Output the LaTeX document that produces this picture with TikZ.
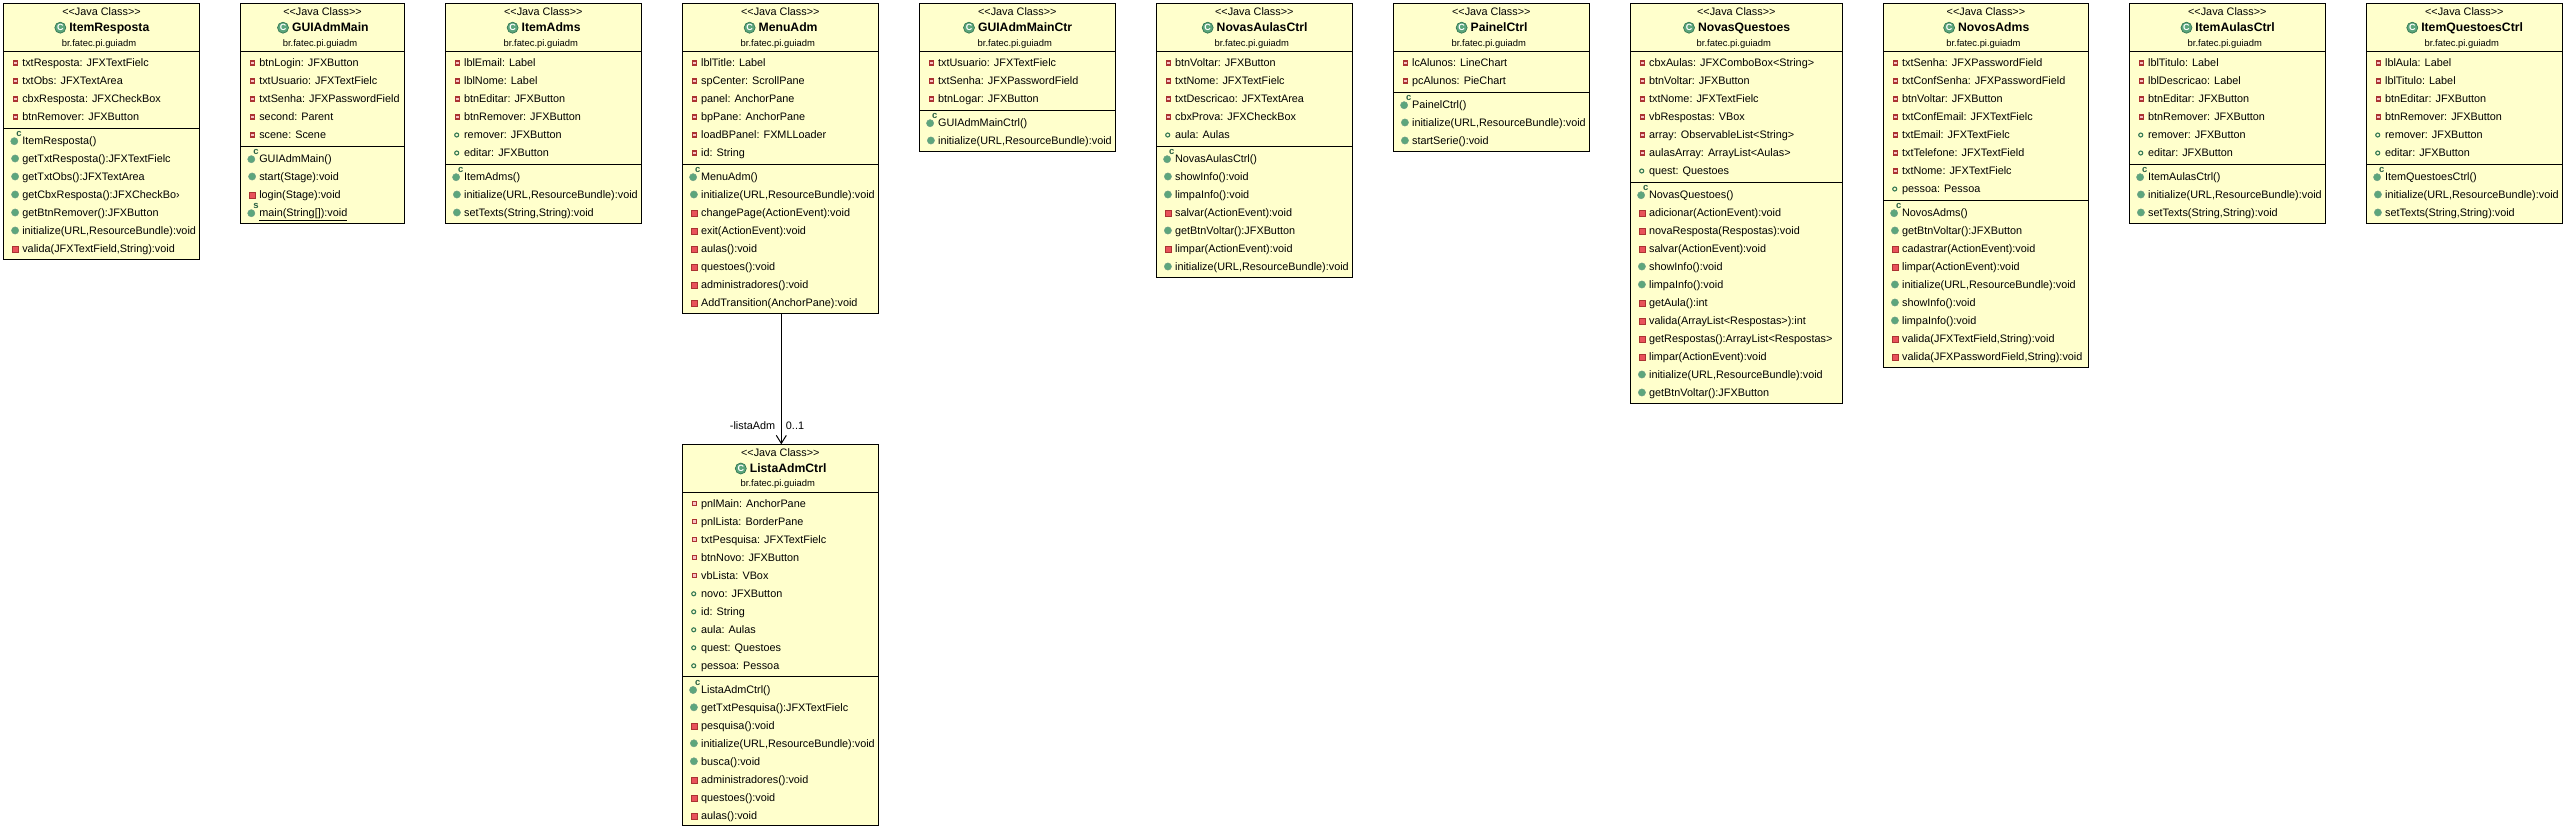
\documentclass[tikz,border=0pt]{standalone}
\usepackage{fontspec}
\setmainfont{Liberation Sans}
\usetikzlibrary{arrows.meta}
\definecolor{clsfill}{RGB}{255,255,204}
\definecolor{icongreen}{RGB}{92,166,124}
\definecolor{icongreenD}{RGB}{52,120,84}
\definecolor{iconred}{RGB}{232,82,90}
\definecolor{iconredD}{RGB}{170,50,50}
\begin{document}
\begin{tikzpicture}[x=1pt,y=-1pt,
cls/.style={shape=rectangle,draw=black,line width=1pt,fill=clsfill,anchor=north west,inner sep=0,outer sep=0},
txt/.style={inner sep=0,outer sep=0,text height=7.5pt,text depth=0pt,font=\fontsize{10.85}{12}\selectfont},
stereo/.style={txt},
pkg/.style={txt,xshift=-2.5pt,font=\fontsize{9.4}{11}\selectfont},
iconT/.style={shape=circle,fill=icongreen,draw=icongreenD,line width=0.7pt,minimum size=11pt,inner sep=0,text=white,font=\fontsize{9}{9}\bfseries\selectfont,anchor=center,xshift=-9pt},
title/.style={inner sep=0,outer sep=0,text height=8.5pt,text depth=0pt,font=\fontsize{12.2}{14}\bfseries\selectfont,xshift=7.8pt,label={[iconT]left:C}},
row/.style={txt,anchor=west},
iconAR/.style={shape=rectangle,draw=iconredD,fill=iconred!35,line width=1.1pt,minimum size=4pt,inner sep=0,anchor=center,xshift=-7pt},
iconAG/.style={shape=circle,draw=icongreenD,fill=clsfill,line width=1.1pt,minimum size=4pt,inner sep=0,anchor=center,xshift=-7.4pt},
iconMG/.style={shape=circle,draw=icongreenD!70,fill=icongreen,line width=0.5pt,minimum size=7.2pt,inner sep=0,anchor=center,xshift=-7.2pt},
iconMC/.style={iconMG,xshift=-0.8pt,yshift=-0.7pt},
iconMR/.style={shape=rectangle,draw=iconredD,fill=iconred,line width=0.5pt,minimum size=5.8pt,inner sep=0,anchor=center,xshift=-7pt,yshift=-1pt},
iconSup/.style={inner sep=0,text=icongreenD!80!black,font=\fontsize{9.5}{9.5}\bfseries\selectfont,anchor=center,xshift=-3.3pt,yshift=6.7pt},
attrR/.style={row,label={[iconAR]left:{}}},
attrG/.style={row,label={[iconAG]left:{}}},
metG/.style={row,label={[iconMG]left:{}}},
metR/.style={row,label={[iconMR]left:{}}},
metC/.style={row,label={[iconMC]left:{}},label={[iconSup]left:c}},
metS/.style={row,label={[iconMC]left:{}},label={[iconSup]left:s}},
sepl/.style={line width=1pt},
assoc/.style={line width=1pt,-{Straight Barb[length=8pt,width=10pt]}}]
\useasboundingbox (0,0) rectangle (2566,830);
\def\tx{18.8}
\def\dy{18}
\def\ya{63}
\def\yb{503.8}
\def\gp{5.5}
\def\jc{<{}<Java Class>{}>}
\def\pk{br.fatec.pi.guiadm}
\def\xa{3.5}
\def\xb{240.5}
\def\xc{445.3}
\def\xd{682.3}
\def\xe{919.3}
\def\xf{1156.3}
\def\xg{1393.3}
\def\xh{1630.3}
\def\xi{1883.3}
\def\xj{2129.3}
\def\xk{2366.3}

\node[cls,minimum width=196,minimum height=255.5] (ItemResposta) at (\xa,3.5) {};
\draw[sepl] (\xa,51.5) -- +(196,0);
\draw[sepl] (\xa,128) -- +(196,0);
\node[stereo] (ir0) at (\xa+98,12) {\jc};
\node[title] (irT) at (\xa+98,27.7) {ItemResposta};
\node[pkg] (irP) at (\xa+98,42.3) {\pk};
\node[attrR] (ir1) at (\xa+\tx,\ya) {txtResposta: JFXTextFielc};
\node[attrR] (ir2) at (\xa+\tx,\ya+\dy) {txtObs: JFXTextArea};
\node[attrR] (ir3) at (\xa+\tx,\ya+2*\dy) {cbxResposta: JFXCheckBox};
\node[attrR] (ir4) at (\xa+\tx,\ya+3*\dy) {btnRemover: JFXButton};
\node[metC] (ir5) at (\xa+\tx,\ya+\gp+4*\dy) {ItemResposta()};
\node[metG] (ir6) at (\xa+\tx,\ya+\gp+5*\dy) {getTxtResposta():JFXTextFielc};
\node[metG] (ir7) at (\xa+\tx,\ya+\gp+6*\dy) {getTxtObs():JFXTextArea};
\node[metG] (ir8) at (\xa+\tx,\ya+\gp+7*\dy) {getCbxResposta():JFXCheckBo›};
\node[metG] (ir9) at (\xa+\tx,\ya+\gp+8*\dy) {getBtnRemover():JFXButton};
\node[metG] (ir10) at (\xa+\tx,\ya+\gp+9*\dy) {initialize(URL,ResourceBundle):void};
\node[metR] (ir11) at (\xa+\tx,\ya+\gp+10*\dy) {valida(JFXTextField,String):void};

\node[cls,minimum width=164,minimum height=219.5] (GUIAdmMain) at (\xb,3.5) {};
\draw[sepl] (\xb,51.5) -- +(164,0);
\draw[sepl] (\xb,146) -- +(164,0);
\node[stereo] (gm0) at (\xb+82,12) {\jc};
\node[title] (gmT) at (\xb+82,27.7) {GUIAdmMain};
\node[pkg] (gmP) at (\xb+82,42.3) {\pk};
\node[attrR] (gm1) at (\xb+\tx,\ya) {btnLogin: JFXButton};
\node[attrR] (gm2) at (\xb+\tx,\ya+\dy) {txtUsuario: JFXTextFielc};
\node[attrR] (gm3) at (\xb+\tx,\ya+2*\dy) {txtSenha: JFXPasswordField};
\node[attrR] (gm4) at (\xb+\tx,\ya+3*\dy) {second: Parent};
\node[attrR] (gm5) at (\xb+\tx,\ya+4*\dy) {scene: Scene};
\node[metC] (gm6) at (\xb+\tx,\ya+\gp+5*\dy) {GUIAdmMain()};
\node[metG] (gm7) at (\xb+\tx,\ya+\gp+6*\dy) {start(Stage):void};
\node[metR] (gm8) at (\xb+\tx,\ya+\gp+7*\dy) {login(Stage):void};
\node[metS] (gm9) at (\xb+\tx,\ya+\gp+8*\dy) {\underline{main(String[]):void}};

\node[cls,minimum width=196,minimum height=219.5] (ItemAdms) at (\xc,3.5) {};
\draw[sepl] (\xc,51.5) -- +(196,0);
\draw[sepl] (\xc,164) -- +(196,0);
\node[stereo] (ia0) at (\xc+98,12) {\jc};
\node[title] (iaT) at (\xc+98,27.7) {ItemAdms};
\node[pkg] (iaP) at (\xc+98,42.3) {\pk};
\node[attrR] (ia1) at (\xc+\tx,\ya) {lblEmail: Label};
\node[attrR] (ia2) at (\xc+\tx,\ya+\dy) {lblNome: Label};
\node[attrR] (ia3) at (\xc+\tx,\ya+2*\dy) {btnEditar: JFXButton};
\node[attrR] (ia4) at (\xc+\tx,\ya+3*\dy) {btnRemover: JFXButton};
\node[attrG] (ia5) at (\xc+\tx,\ya+4*\dy) {remover: JFXButton};
\node[attrG] (ia6) at (\xc+\tx,\ya+5*\dy) {editar: JFXButton};
\node[metC] (ia7) at (\xc+\tx,\ya+\gp+6*\dy) {ItemAdms()};
\node[metG] (ia8) at (\xc+\tx,\ya+\gp+7*\dy) {initialize(URL,ResourceBundle):void};
\node[metG] (ia9) at (\xc+\tx,\ya+\gp+8*\dy) {setTexts(String,String):void};

\node[cls,minimum width=196,minimum height=309.5] (MenuAdm) at (\xd,3.5) {};
\draw[sepl] (\xd,51.5) -- +(196,0);
\draw[sepl] (\xd,164) -- +(196,0);
\node[stereo] (ma0) at (\xd+98,12) {\jc};
\node[title] (maT) at (\xd+98,27.7) {MenuAdm};
\node[pkg] (maP) at (\xd+98,42.3) {\pk};
\node[attrR] (ma1) at (\xd+\tx,\ya) {lblTitle: Label};
\node[attrR] (ma2) at (\xd+\tx,\ya+\dy) {spCenter: ScrollPane};
\node[attrR] (ma3) at (\xd+\tx,\ya+2*\dy) {panel: AnchorPane};
\node[attrR] (ma4) at (\xd+\tx,\ya+3*\dy) {bpPane: AnchorPane};
\node[attrR] (ma5) at (\xd+\tx,\ya+4*\dy) {loadBPanel: FXMLLoader};
\node[attrR] (ma6) at (\xd+\tx,\ya+5*\dy) {id: String};
\node[metC] (ma7) at (\xd+\tx,\ya+\gp+6*\dy) {MenuAdm()};
\node[metG] (ma8) at (\xd+\tx,\ya+\gp+7*\dy) {initialize(URL,ResourceBundle):void};
\node[metR] (ma9) at (\xd+\tx,\ya+\gp+8*\dy) {changePage(ActionEvent):void};
\node[metR] (ma10) at (\xd+\tx,\ya+\gp+9*\dy) {exit(ActionEvent):void};
\node[metR] (ma11) at (\xd+\tx,\ya+\gp+10*\dy) {aulas():void};
\node[metR] (ma12) at (\xd+\tx,\ya+\gp+11*\dy) {questoes():void};
\node[metR] (ma13) at (\xd+\tx,\ya+\gp+12*\dy) {administradores():void};
\node[metR] (ma14) at (\xd+\tx,\ya+\gp+13*\dy) {AddTransition(AnchorPane):void};

\node[cls,minimum width=196,minimum height=147.5] (GUIAdmMainCtr) at (\xe,3.5) {};
\draw[sepl] (\xe,51.5) -- +(196,0);
\draw[sepl] (\xe,110) -- +(196,0);
\node[stereo] (gc0) at (\xe+98,12) {\jc};
\node[title] (gcT) at (\xe+98,27.7) {GUIAdmMainCtr};
\node[pkg] (gcP) at (\xe+98,42.3) {\pk};
\node[attrR] (gc1) at (\xe+\tx,\ya) {txtUsuario: JFXTextFielc};
\node[attrR] (gc2) at (\xe+\tx,\ya+\dy) {txtSenha: JFXPasswordField};
\node[attrR] (gc3) at (\xe+\tx,\ya+2*\dy) {btnLogar: JFXButton};
\node[metC] (gc4) at (\xe+\tx,\ya+\gp+3*\dy) {GUIAdmMainCtrl()};
\node[metG] (gc5) at (\xe+\tx,\ya+\gp+4*\dy) {initialize(URL,ResourceBundle):void};

\node[cls,minimum width=196,minimum height=273.5] (NovasAulasCtrl) at (\xf,3.5) {};
\draw[sepl] (\xf,51.5) -- +(196,0);
\draw[sepl] (\xf,146) -- +(196,0);
\node[stereo] (na0) at (\xf+98,12) {\jc};
\node[title] (naT) at (\xf+98,27.7) {NovasAulasCtrl};
\node[pkg] (naP) at (\xf+98,42.3) {\pk};
\node[attrR] (na1) at (\xf+\tx,\ya) {btnVoltar: JFXButton};
\node[attrR] (na2) at (\xf+\tx,\ya+\dy) {txtNome: JFXTextFielc};
\node[attrR] (na3) at (\xf+\tx,\ya+2*\dy) {txtDescricao: JFXTextArea};
\node[attrR] (na4) at (\xf+\tx,\ya+3*\dy) {cbxProva: JFXCheckBox};
\node[attrG] (na5) at (\xf+\tx,\ya+4*\dy) {aula: Aulas};
\node[metC] (na6) at (\xf+\tx,\ya+\gp+5*\dy) {NovasAulasCtrl()};
\node[metG] (na7) at (\xf+\tx,\ya+\gp+6*\dy) {showInfo():void};
\node[metG] (na8) at (\xf+\tx,\ya+\gp+7*\dy) {limpaInfo():void};
\node[metR] (na9) at (\xf+\tx,\ya+\gp+8*\dy) {salvar(ActionEvent):void};
\node[metG] (na10) at (\xf+\tx,\ya+\gp+9*\dy) {getBtnVoltar():JFXButton};
\node[metR] (na11) at (\xf+\tx,\ya+\gp+10*\dy) {limpar(ActionEvent):void};
\node[metG] (na12) at (\xf+\tx,\ya+\gp+11*\dy) {initialize(URL,ResourceBundle):void};

\node[cls,minimum width=196,minimum height=147.5] (PainelCtrl) at (\xg,3.5) {};
\draw[sepl] (\xg,51.5) -- +(196,0);
\draw[sepl] (\xg,92) -- +(196,0);
\node[stereo] (pc0) at (\xg+98,12) {\jc};
\node[title] (pcT) at (\xg+98,27.7) {PainelCtrl};
\node[pkg] (pcP) at (\xg+98,42.3) {\pk};
\node[attrR] (pc1) at (\xg+\tx,\ya) {lcAlunos: LineChart};
\node[attrR] (pc2) at (\xg+\tx,\ya+\dy) {pcAlunos: PieChart};
\node[metC] (pc3) at (\xg+\tx,\ya+\gp+2*\dy) {PainelCtrl()};
\node[metG] (pc4) at (\xg+\tx,\ya+\gp+3*\dy) {initialize(URL,ResourceBundle):void};
\node[metG] (pc5) at (\xg+\tx,\ya+\gp+4*\dy) {startSerie():void};

\node[cls,minimum width=212,minimum height=399.5] (NovasQuestoes) at (\xh,3.5) {};
\draw[sepl] (\xh,51.5) -- +(212,0);
\draw[sepl] (\xh,182) -- +(212,0);
\node[stereo] (nq0) at (\xh+106,12) {\jc};
\node[title] (nqT) at (\xh+106,27.7) {NovasQuestoes};
\node[pkg] (nqP) at (\xh+106,42.3) {\pk};
\node[attrR] (nq1) at (\xh+\tx,\ya) {cbxAulas: JFXComboBox<String>};
\node[attrR] (nq2) at (\xh+\tx,\ya+\dy) {btnVoltar: JFXButton};
\node[attrR] (nq3) at (\xh+\tx,\ya+2*\dy) {txtNome: JFXTextFielc};
\node[attrR] (nq4) at (\xh+\tx,\ya+3*\dy) {vbRespostas: VBox};
\node[attrR] (nq5) at (\xh+\tx,\ya+4*\dy) {array: ObservableList<String>};
\node[attrR] (nq6) at (\xh+\tx,\ya+5*\dy) {aulasArray: ArrayList<Aulas>};
\node[attrG] (nq7) at (\xh+\tx,\ya+6*\dy) {quest: Questoes};
\node[metC] (nq8) at (\xh+\tx,\ya+\gp+7*\dy) {NovasQuestoes()};
\node[metR] (nq9) at (\xh+\tx,\ya+\gp+8*\dy) {adicionar(ActionEvent):void};
\node[metR] (nq10) at (\xh+\tx,\ya+\gp+9*\dy) {novaResposta(Respostas):void};
\node[metR] (nq11) at (\xh+\tx,\ya+\gp+10*\dy) {salvar(ActionEvent):void};
\node[metG] (nq12) at (\xh+\tx,\ya+\gp+11*\dy) {showInfo():void};
\node[metG] (nq13) at (\xh+\tx,\ya+\gp+12*\dy) {limpaInfo():void};
\node[metR] (nq14) at (\xh+\tx,\ya+\gp+13*\dy) {getAula():int};
\node[metR] (nq15) at (\xh+\tx,\ya+\gp+14*\dy) {valida(ArrayList<Respostas>):int};
\node[metR] (nq16) at (\xh+\tx,\ya+\gp+15*\dy) {getRespostas():ArrayList<Respostas>};
\node[metR] (nq17) at (\xh+\tx,\ya+\gp+16*\dy) {limpar(ActionEvent):void};
\node[metG] (nq18) at (\xh+\tx,\ya+\gp+17*\dy) {initialize(URL,ResourceBundle):void};
\node[metG] (nq19) at (\xh+\tx,\ya+\gp+18*\dy) {getBtnVoltar():JFXButton};

\node[cls,minimum width=205.3,minimum height=363.5] (NovosAdms) at (\xi,3.5) {};
\draw[sepl] (\xi,51.5) -- +(205.3,0);
\draw[sepl] (\xi,200) -- +(205.3,0);
\node[stereo] (no0) at (\xi+102.6,12) {\jc};
\node[title] (noT) at (\xi+102.6,27.7) {NovosAdms};
\node[pkg] (noP) at (\xi+102.6,42.3) {\pk};
\node[attrR] (no1) at (\xi+\tx,\ya) {txtSenha: JFXPasswordField};
\node[attrR] (no2) at (\xi+\tx,\ya+\dy) {txtConfSenha: JFXPasswordField};
\node[attrR] (no3) at (\xi+\tx,\ya+2*\dy) {btnVoltar: JFXButton};
\node[attrR] (no4) at (\xi+\tx,\ya+3*\dy) {txtConfEmail: JFXTextFielc};
\node[attrR] (no5) at (\xi+\tx,\ya+4*\dy) {txtEmail: JFXTextFielc};
\node[attrR] (no6) at (\xi+\tx,\ya+5*\dy) {txtTelefone: JFXTextField};
\node[attrR] (no7) at (\xi+\tx,\ya+6*\dy) {txtNome: JFXTextFielc};
\node[attrG] (no8) at (\xi+\tx,\ya+7*\dy) {pessoa: Pessoa};
\node[metC] (no9) at (\xi+\tx,\ya+\gp+8*\dy) {NovosAdms()};
\node[metG] (no10) at (\xi+\tx,\ya+\gp+9*\dy) {getBtnVoltar():JFXButton};
\node[metR] (no11) at (\xi+\tx,\ya+\gp+10*\dy) {cadastrar(ActionEvent):void};
\node[metR] (no12) at (\xi+\tx,\ya+\gp+11*\dy) {limpar(ActionEvent):void};
\node[metG] (no13) at (\xi+\tx,\ya+\gp+12*\dy) {initialize(URL,ResourceBundle):void};
\node[metG] (no14) at (\xi+\tx,\ya+\gp+13*\dy) {showInfo():void};
\node[metG] (no15) at (\xi+\tx,\ya+\gp+14*\dy) {limpaInfo():void};
\node[metR] (no16) at (\xi+\tx,\ya+\gp+15*\dy) {valida(JFXTextField,String):void};
\node[metR] (no17) at (\xi+\tx,\ya+\gp+16*\dy) {valida(JFXPasswordField,String):void};

\node[cls,minimum width=196,minimum height=219.5] (ItemAulasCtrl) at (\xj,3.5) {};
\draw[sepl] (\xj,51.5) -- +(196,0);
\draw[sepl] (\xj,164) -- +(196,0);
\node[stereo] (iu0) at (\xj+98,12) {\jc};
\node[title] (iuT) at (\xj+98,27.7) {ItemAulasCtrl};
\node[pkg] (iuP) at (\xj+98,42.3) {\pk};
\node[attrR] (iu1) at (\xj+\tx,\ya) {lblTitulo: Label};
\node[attrR] (iu2) at (\xj+\tx,\ya+\dy) {lblDescricao: Label};
\node[attrR] (iu3) at (\xj+\tx,\ya+2*\dy) {btnEditar: JFXButton};
\node[attrR] (iu4) at (\xj+\tx,\ya+3*\dy) {btnRemover: JFXButton};
\node[attrG] (iu5) at (\xj+\tx,\ya+4*\dy) {remover: JFXButton};
\node[attrG] (iu6) at (\xj+\tx,\ya+5*\dy) {editar: JFXButton};
\node[metC] (iu7) at (\xj+\tx,\ya+\gp+6*\dy) {ItemAulasCtrl()};
\node[metG] (iu8) at (\xj+\tx,\ya+\gp+7*\dy) {initialize(URL,ResourceBundle):void};
\node[metG] (iu9) at (\xj+\tx,\ya+\gp+8*\dy) {setTexts(String,String):void};

\node[cls,minimum width=196,minimum height=219.5] (ItemQuestoesCtrl) at (\xk,3.5) {};
\draw[sepl] (\xk,51.5) -- +(196,0);
\draw[sepl] (\xk,164) -- +(196,0);
\node[stereo] (iq0) at (\xk+98,12) {\jc};
\node[title] (iqT) at (\xk+98,27.7) {ItemQuestoesCtrl};
\node[pkg] (iqP) at (\xk+98,42.3) {\pk};
\node[attrR] (iq1) at (\xk+\tx,\ya) {lblAula: Label};
\node[attrR] (iq2) at (\xk+\tx,\ya+\dy) {lblTitulo: Label};
\node[attrR] (iq3) at (\xk+\tx,\ya+2*\dy) {btnEditar: JFXButton};
\node[attrR] (iq4) at (\xk+\tx,\ya+3*\dy) {btnRemover: JFXButton};
\node[attrG] (iq5) at (\xk+\tx,\ya+4*\dy) {remover: JFXButton};
\node[attrG] (iq6) at (\xk+\tx,\ya+5*\dy) {editar: JFXButton};
\node[metC] (iq7) at (\xk+\tx,\ya+\gp+6*\dy) {ItemQuestoesCtrl()};
\node[metG] (iq8) at (\xk+\tx,\ya+\gp+7*\dy) {initialize(URL,ResourceBundle):void};
\node[metG] (iq9) at (\xk+\tx,\ya+\gp+8*\dy) {setTexts(String,String):void};

\node[cls,minimum width=196,minimum height=381.5] (ListaAdmCtrl) at (\xd,444.3) {};
\draw[sepl] (\xd,492.3) -- +(196,0);
\draw[sepl] (\xd,676.8) -- +(196,0);
\node[stereo] (la0) at (\xd+98,452.8) {\jc};
\node[title] (laT) at (\xd+98,468.5) {ListaAdmCtrl};
\node[pkg] (laP) at (\xd+98,483.1) {\pk};
\node[attrR] (la1) at (\xd+\tx,\yb) {pnlMain: AnchorPane};
\node[attrR] (la2) at (\xd+\tx,\yb+\dy) {pnlLista: BorderPane};
\node[attrR] (la3) at (\xd+\tx,\yb+2*\dy) {txtPesquisa: JFXTextFielc};
\node[attrR] (la4) at (\xd+\tx,\yb+3*\dy) {btnNovo: JFXButton};
\node[attrR] (la5) at (\xd+\tx,\yb+4*\dy) {vbLista: VBox};
\node[attrG] (la6) at (\xd+\tx,\yb+5*\dy) {novo: JFXButton};
\node[attrG] (la7) at (\xd+\tx,\yb+6*\dy) {id: String};
\node[attrG] (la8) at (\xd+\tx,\yb+7*\dy) {aula: Aulas};
\node[attrG] (la9) at (\xd+\tx,\yb+8*\dy) {quest: Questoes};
\node[attrG] (la10) at (\xd+\tx,\yb+9*\dy) {pessoa: Pessoa};
\node[metC] (la11) at (\xd+\tx,\yb+\gp+10*\dy) {ListaAdmCtrl()};
\node[metG] (la12) at (\xd+\tx,\yb+\gp+11*\dy) {getTxtPesquisa():JFXTextFielc};
\node[metR] (la13) at (\xd+\tx,\yb+\gp+12*\dy) {pesquisa():void};
\node[metG] (la14) at (\xd+\tx,\yb+\gp+13*\dy) {initialize(URL,ResourceBundle):void};
\node[metG] (la15) at (\xd+\tx,\yb+\gp+14*\dy) {busca():void};
\node[metR] (la16) at (\xd+\tx,\yb+\gp+15*\dy) {administradores():void};
\node[metR] (la17) at (\xd+\tx,\yb+\gp+16*\dy) {questoes():void};
\node[metR] (la18) at (\xd+\tx,\yb+\gp+17*\dy) {aulas():void};

\draw[assoc] ([xshift=1pt]MenuAdm.south) -- ([xshift=1pt]ListaAdmCtrl.north);
\node[txt] (roleA) at (752.5,425.3) {-listaAdm};
\node[txt] (multA) at (795,426) {0..1};
\end{tikzpicture}
\end{document}
